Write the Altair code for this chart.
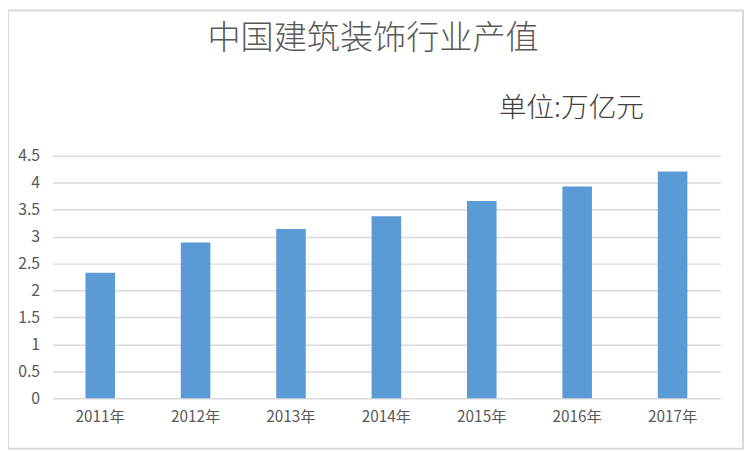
import altair as alt
import pandas as pd

years = ["2011年", "2012年", "2013年", "2014年", "2015年", "2016年", "2017年"]
values = [2.33, 2.89, 3.14, 3.38, 3.66, 3.93, 4.21]
y_ticks = [0, 0.5, 1, 1.5, 2, 2.5, 3, 3.5, 4, 4.5]
title_text = "中国建筑装饰行业产值"
unit_text = "单位:万亿元"

df = pd.DataFrame({"year": years, "value": values})
FONT = "Noto Sans CJK SC"
GRAY = "#595959"

W, H = 675, 245
PL, PT, PR, PB = 45, 147, 24, 52

bars = alt.Chart(df).mark_bar(color="#5b9bd5").encode(
    x=alt.X("year:N", sort=years, title=None,
            scale=alt.Scale(paddingInner=0.69, paddingOuter=0.345),
            axis=alt.Axis(labelAngle=0, ticks=False, domain=False, grid=False,
                          labelPadding=12, labelFontSize=15.5, labelColor=GRAY,
                          labelFont=FONT)),
    y=alt.Y("value:Q", title=None,
            scale=alt.Scale(domain=[0, 4.5], nice=False),
            axis=alt.Axis(values=y_ticks, format="~g",
                          ticks=False, domain=False, labelPadding=13,
                          labelFontSize=16, labelColor=GRAY, labelFont=FONT,
                          gridColor="#d9d9d9", gridWidth=1.5)),
)

title = alt.Chart(pd.DataFrame({"t": [title_text]})).mark_text(
    font=FONT, fontSize=33.5, fontWeight=300, color=GRAY, align="center", baseline="middle"
).encode(text="t:N", x=alt.value(377 - 53), y=alt.value(37 - 155))

unit = alt.Chart(pd.DataFrame({"t": [unit_text]})).mark_text(
    font=FONT, fontSize=28, fontWeight=300, color="#404040", align="left", baseline="middle"
).encode(text="t:N", x=alt.value(504 - 53), y=alt.value(108 - 155))

border = alt.Chart(pd.DataFrame({"a": [0]})).mark_rect(
    fill=None, stroke="#d9d9d9", strokeWidth=2
).encode(x=alt.value(-PL), x2=alt.value(W + PR - 1), y=alt.value(-PT), y2=alt.value(H + PB - 1))

chart = alt.layer(bars, title, unit, border).properties(
    width=W, height=H,
    autosize=alt.AutoSizeParams(type="none"),
    padding={"left": PL, "top": PT, "right": PR, "bottom": PB},
).configure(background="white").configure_view(stroke=None)

chart.save("out.html", embed_options={"renderer": "svg", "actions": False})
